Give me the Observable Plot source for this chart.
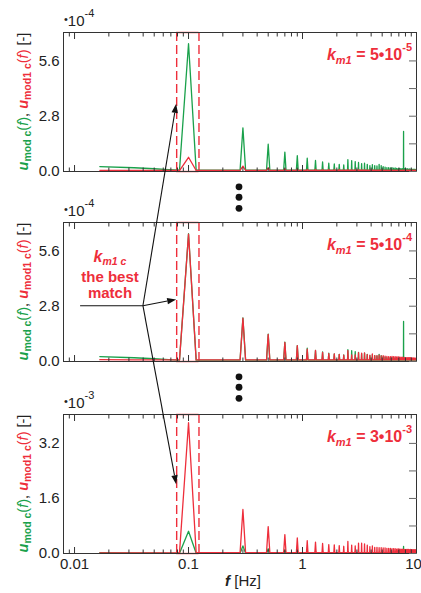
<!DOCTYPE html>
<html><head><meta charset="utf-8">
<script src="https://cdn.jsdelivr.net/npm/d3@7"></script>
<script src="https://cdn.jsdelivr.net/npm/@observablehq/plot@0.6"></script>
<style>
body{margin:0;background:#fff;}
#wrap{position:relative;width:421px;height:593px;overflow:hidden;font-family:"Liberation Sans",Arial,sans-serif;}
#wrap svg{position:absolute;left:0;}
</style></head><body><div id="wrap"></div>
<script>
// ---------- data ----------
const binWidth = 1/60; // FFT resolution [Hz]
const lowFreqs = [1/60, 2/60, 3/60, 4/60];
const harmonicFreqs = [0.1,0.3,0.5,0.7,0.9,1.1,1.3,1.5,1.7,1.9,2.1,2.3,2.5,2.7,2.9,3.1,3.3,3.5,3.7,3.9,4.1,4.3,4.5,4.7,4.9,5.1,5.3,5.5,5.7,5.9,6.1,6.3,6.5,6.7,6.9,7.1,7.3,7.5,7.7,7.9,8.1,8.3,8.5,8.7,8.9,9.1,9.3,9.5,9.7,9.9];
// u_mod c (green, x1e-4)
const greenLow = [0.25, 0.19, 0.14, 0.1];
const greenPeaks = [6.47,2.21,1.38,0.98,0.8,0.67,0.56,0.48,0.42,0.38,0.36,0.33,0.6,0.55,0.5,0.46,0.4,0.42,0.36,0.3,0.35,0.3,0.28,0.36,0.3,0.25,0.22,0.2,0.2,0.18,0.2,0.17,0.18,0.16,0.15,0.16,0.15,0.14,2.03,0.14,0.13,0.14,0.12,0.13,0.12,0.12,0.11,0.12,0.11,0.1];
const greenBase = 0.07;
// u_mod1 c, k_m1 = 5e-5 (red, x1e-4)
const red1Low = [0.06, 0.055, 0.05, 0.05];
const red1Peaks = [0.72,0.27,0.18,0.14,0.12,0.11,0.11,0.1,0.1,0.1,0.1,0.09,0.1,0.09,0.09,0.09,0.09,0.09,0.08,0.08,0.08,0.08,0.08,0.08,0.08,0.07,0.07,0.07,0.07,0.07,0.07,0.07,0.07,0.07,0.07,0.07,0.07,0.07,0.07,0.07,0.07,0.07,0.07,0.07,0.07,0.07,0.07,0.07,0.07,0.07];
const red1Base = 0.05;
// u_mod1 c, k_m1 = 5e-4 (red, x1e-4)
const red2Low = [0.09, 0.08, 0.08, 0.08];
const red2Peaks = [6.45,2.19,1.37,0.97,0.8,0.62,0.56,0.46,0.4,0.39,0.36,0.32,0.55,0.34,0.33,0.45,0.42,0.44,0.35,0.32,0.38,0.3,0.3,0.32,0.28,0.3,0.27,0.26,0.25,0.25,0.26,0.24,0.24,0.23,0.24,0.22,0.22,0.22,0.2,0.21,0.2,0.2,0.19,0.2,0.19,0.18,0.18,0.18,0.17,0.17];
const red2Base = 0.08;
// u_mod1 c, k_m1 = 3e-3 (red, x1e-3)
const red3Low = [0.02, 0.02, 0.02, 0.02];
const red3Peaks = [3.8,1.28,0.78,0.55,0.45,0.37,0.33,0.29,0.26,0.25,0.23,0.21,0.35,0.24,0.22,0.3,0.3,0.28,0.24,0.2,0.22,0.18,0.18,0.17,0.17,0.16,0.16,0.15,0.15,0.15,0.14,0.14,0.14,0.13,0.14,0.13,0.13,0.13,0.12,0.12,0.12,0.12,0.12,0.11,0.12,0.11,0.11,0.11,0.11,0.11];
const red3Base = 0.025;

const xMajorTicks = [0.01, 0.1, 1, 10];
const xMinorTicks = [0.008,0.009,0.02,0.03,0.04,0.05,0.06,0.07,0.08,0.09,0.2,0.3,0.4,0.5,0.6,0.7,0.8,0.9,2,3,4,5,6,7,8,9];
const boxFreqs = [0.0787, 0.1235];
const panelLabels = [["5","-5"],["5","-4"],["3","-3"]];
const panelExponents = ["-4","-4","-3"];
const yTickLabels = [[0,2.8,5.6],[0,2.8,5.6],[0,1.6,3.2]];
const yTickMarks = [[0,1.4,2.8,4.2,5.6],[0,1.4,2.8,4.2,5.6],[0,0.8,1.6,2.4,3.2]];
const yMax = [7.04, 7.04, 4.04];

const GREEN = "#1aa14b", RED = "#ee2e3b";

function series(lowVals, peaks, base, scale = 1) {
  const pts = lowFreqs.map((f, i) => ({f, v: lowVals[i] * scale}));
  harmonicFreqs.forEach((f, i) => {
    pts.push({f: f - binWidth, v: base * scale}, {f, v: peaks[i] * scale}, {f: f + binWidth, v: base * scale});
  });
  return pts;
}
const panels = [
  {top: 32,  green: series(greenLow, greenPeaks, greenBase), red: series(red1Low, red1Peaks, red1Base)},
  {top: 222, green: series(greenLow, greenPeaks, greenBase), red: series(red2Low, red2Peaks, red2Base)},
  {top: 414, green: series(greenLow, greenPeaks, greenBase, 0.1), red: series(red3Low, red3Peaks, red3Base)}
];

const wrap = document.getElementById("wrap");
const PH = 139, MT = 8;
const charts = panels.map((p, k) => {
  const last = k === 2;
  const mb = last ? 40 : 8;
  const ym = yMax[k];
  const axOpts = {tickFormat: () => "", label: null, stroke: "#333"};
  const chart = Plot.plot({
    width: 421, height: PH + MT + mb,
    marginLeft: 63, marginRight: 5, marginTop: MT, marginBottom: mb,
    x: {type: "log", domain: [0.008, 10], axis: null},
    y: {domain: [0, ym], axis: null},
    style: {fontFamily: "Liberation Sans, Arial, sans-serif", fontSize: "15px", color: "#222", background: "transparent", overflow: "visible"},
    marks: [
      Plot.ruleX(boxFreqs, {stroke: RED, strokeWidth: 1.4, strokeDasharray: "9,4"}),
      Plot.ruleY([{y: 0}, {y: ym}], {y: "y", x1: () => boxFreqs[0], x2: () => boxFreqs[1], stroke: RED, strokeWidth: 1.4}),
      Plot.line(p.green, {x: "f", y: "v", stroke: GREEN, strokeWidth: 1.3}),
      Plot.line(p.red, {x: "f", y: "v", stroke: RED, strokeWidth: 1.3}),
      Plot.frame({stroke: "#333", strokeWidth: 1}),
      Plot.axisY(yTickLabels[k], {anchor: "left", tickSize: 0, tickPadding: 4, tickFormat: d => d.toFixed(1), label: null, fontSize: 15, fill: "#222"}),
      Plot.axisY(yTickMarks[k], {anchor: "right", tickSize: -8, ...axOpts, stroke: "#666"}),
      Plot.axisX(xMajorTicks, {anchor: "bottom", tickSize: -6, ...axOpts}),
      Plot.axisX(xMinorTicks, {anchor: "bottom", tickSize: -3.5, ...axOpts}),
      Plot.axisX(xMajorTicks, {anchor: "top", tickSize: -6, ...axOpts}),
      Plot.axisX(xMinorTicks, {anchor: "top", tickSize: -3.5, ...axOpts}),
      ...(last ? [
        Plot.axisX(xMajorTicks.slice(0, 3), {anchor: "bottom", tickSize: 0, tickPadding: 5, tickFormat: d => String(d), label: null, fontSize: 15, fill: "#222"}),
        Plot.axisX(xMajorTicks.slice(3), {anchor: "bottom", tickSize: 0, tickPadding: 5, dx: -3, tickFormat: d => String(d), label: null, fontSize: 15, fill: "#222"})
      ] : [])
    ]
  });
  chart.style.top = (p.top - MT) + "px";
  wrap.appendChild(chart);
  return chart;
});

// helpers mapping data to page coordinates via the charts' scales
const px = (k, f) => charts[k].scale("x").apply(f);
const py = (k, v) => charts[k].scale("y").apply(v) + panels[k].top - MT;

// ---------- overlay annotations ----------
const ov = d3.create("svg").attr("width", 421).attr("height", 593).style("top", "0px")
  .attr("font-family", "Liberation Sans, Arial, sans-serif");

panels.forEach((p, k) => {
  // y-axis title
  const t = ov.append("text").attr("transform", `translate(28,${p.top + PH / 2}) rotate(-90)`)
    .attr("text-anchor", "middle").attr("font-size", 14.5);
  t.append("tspan").attr("fill", GREEN).attr("font-weight", "bold").attr("font-style", "italic").text("u");
  t.append("tspan").attr("fill", GREEN).attr("font-weight", "bold").attr("font-size", 10.5).attr("dy", 3).text("mod c");
  t.append("tspan").attr("fill", GREEN).attr("dy", -3).text("(");
  t.append("tspan").attr("fill", GREEN).attr("font-style", "italic").text("f");
  t.append("tspan").attr("fill", GREEN).text(")");
  t.append("tspan").attr("fill", "#222").text(", ");
  t.append("tspan").attr("fill", RED).attr("font-weight", "bold").attr("font-style", "italic").text("u");
  t.append("tspan").attr("fill", RED).attr("font-weight", "bold").attr("font-size", 10.5).attr("dy", 3).text("mod1 c");
  t.append("tspan").attr("fill", RED).attr("dy", -3).text("(");
  t.append("tspan").attr("fill", RED).attr("font-style", "italic").text("f");
  t.append("tspan").attr("fill", RED).text(")");
  t.append("tspan").attr("fill", "#222").text(" [-]");

  // exponent label above axis
  const e = ov.append("text").attr("x", 64).attr("y", p.top - 6).attr("fill", "#222").attr("font-size", 15);
  e.append("tspan").attr("font-size", 11).attr("dy", -3).text("•");
  e.append("tspan").attr("dy", 3).text("10");
  e.append("tspan").attr("font-size", 11).attr("dy", -9).text(panelExponents[k]);

  // k_m1 label
  const kl = ov.append("text").attr("x", 412).attr("y", p.top + 28).attr("text-anchor", "end")
    .attr("fill", RED).attr("font-weight", "bold").attr("font-size", 16);
  kl.append("tspan").attr("font-style", "italic").text("k");
  kl.append("tspan").attr("font-style", "italic").attr("font-size", 11).attr("dy", 4).text("m1");
  kl.append("tspan").attr("dy", -4).text(" = " + panelLabels[k][0] + "•10");
  kl.append("tspan").attr("font-size", 11).attr("dy", -9).text(panelLabels[k][1]);
});

// "k_m1 c the best match"
const note = ov.append("g").attr("fill", RED).attr("font-weight", "bold").attr("font-size", 15).attr("text-anchor", "middle");
const n1 = note.append("text").attr("x", 110).attr("y", 262);
n1.append("tspan").attr("font-style", "italic").attr("font-size", 16).text("k");
n1.append("tspan").attr("font-style", "italic").attr("font-size", 10.5).attr("dy", 3).text("m1 c");
note.append("text").attr("x", 110).attr("y", 282).text("the best");
note.append("text").attr("x", 110).attr("y", 298).text("match");

// vertical ellipsis dots between panels
const dotF = 0.28, dotV = [-0.8, -1.33, -1.89];
[0, 1].forEach(k => dotV.forEach(v => ov.append("circle").attr("cx", px(k, dotF)).attr("cy", py(k, v)).attr("r", 3.4).attr("fill", "#111")));

// arrows
const arrowTail = {f: 0.0113, v: 2.8}, arrowOrigin = {f: 0.0402, v: 2.8};
const arrowTargets = [{k: 0, f: 0.0787, v: 3.4}, {k: 1, f: 0.0787, v: 3.12}, {k: 2, f: 0.0787, v: 2.0}];
const O = [px(1, arrowOrigin.f), py(1, arrowOrigin.v)];
ov.append("line").attr("x1", px(1, arrowTail.f)).attr("y1", py(1, arrowTail.v)).attr("x2", O[0]).attr("y2", O[1]).attr("stroke", "#111").attr("stroke-width", 1.1);
arrowTargets.forEach(t => {
  const x2 = px(t.k, t.f), y2 = py(t.k, t.v);
  const dx = x2 - O[0], dy = y2 - O[1], L = Math.hypot(dx, dy), ux = dx / L, uy = dy / L;
  const hl = 9, hw = 3.2;
  const bx = x2 - ux * hl, by = y2 - uy * hl;
  ov.append("line").attr("x1", O[0]).attr("y1", O[1]).attr("x2", bx).attr("y2", by).attr("stroke", "#111").attr("stroke-width", 1.1);
  ov.append("path").attr("d", `M${x2},${y2}L${bx - uy * hw},${by + ux * hw}L${bx + uy * hw},${by - ux * hw}Z`).attr("fill", "#111");
});

// x-axis title
const xt = ov.append("text").attr("x", 243).attr("y", 586).attr("text-anchor", "middle").attr("font-size", 15).attr("fill", "#222");
xt.append("tspan").attr("font-weight", "bold").attr("font-style", "italic").text("f");
xt.append("tspan").text(" [Hz]");

wrap.appendChild(ov.node());
</script></body></html>
